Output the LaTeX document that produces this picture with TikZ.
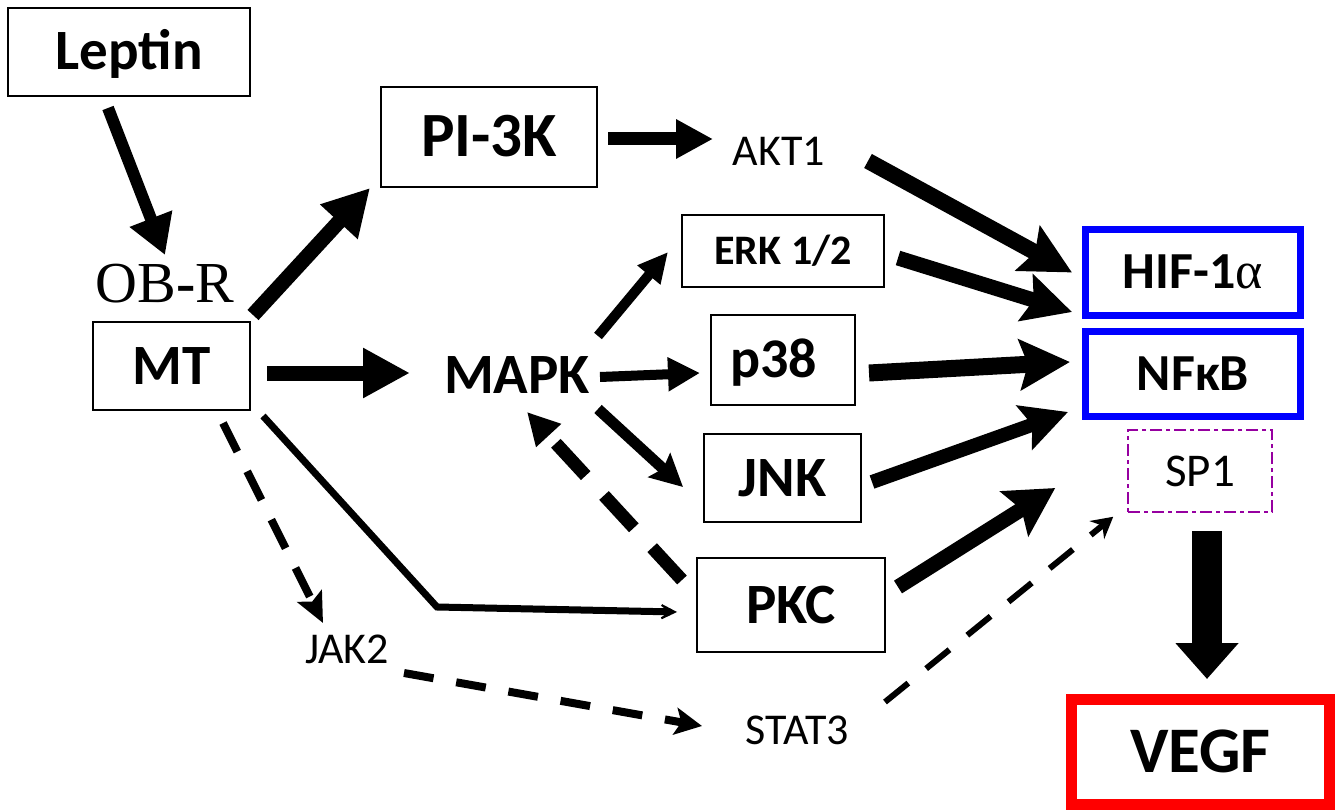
\documentclass[tikz,border=0pt]{standalone}
\usepackage{fontspec}
\setmainfont{Carlito}
\newfontfamily\serifface{Liberation Serif}
\usetikzlibrary{arrows.meta,calc}
\newcommand\fsz[1]{\fontsize{#1}{#1}\selectfont}
\definecolor{boxblue}{RGB}{0,0,255}
\definecolor{boxred}{RGB}{255,0,0}
\definecolor{sppurple}{RGB}{150,0,160}
\tikzset{
  box/.style={draw, line width=2pt, inner sep=0pt, text depth=0pt, align=center},
  tf/.style={box, line width=7pt, draw=boxblue},
  plain/.style={inner sep=0pt, text depth=0pt},
  tri/.style n args={3}{line width=#1, -{Triangle[length=#2, width=#3]}},
  stl/.style n args={4}{line width=#1, -{Stealth[length=#2, width=#3, inset=#4]}}
}
\begin{document}
\begin{tikzpicture}[x=1pt, y=-1pt]
\useasboundingbox (0,0) rectangle (1341,810);

% boxes
\node[box, minimum width=242pt, minimum height=88pt, font=\bfseries\fsz{57}, text height=36pt] (lep) at (129,52) {Leptin};
\node[box, minimum width=216pt, minimum height=100pt, font=\bfseries\fsz{63}, text height=40pt] (pi) at (489,137) {PI-3K};
\node[box, minimum width=157pt, minimum height=88pt, font=\bfseries\fsz{57}, text height=36pt] (mt) at (171.5,366) {MT};
\node[box, minimum width=202pt, minimum height=72pt, font=\bfseries\fsz{42}, text height=27pt] (erk) at (783,251) {ERK 1/2};
\node[box, minimum width=144pt, minimum height=90pt, font=\bfseries\fsz{56}, text height=35pt] (p38) at (783,360) {p38\kern19pt};
\node[box, minimum width=157pt, minimum height=88pt, font=\bfseries\fsz{57}, text height=36pt] (jnk) at (782.5,478) {JNK};
\node[box, minimum width=188pt, minimum height=94pt, font=\bfseries\fsz{57}, text height=36pt] (pkc) at (791,605) {PKC};
\node[tf, minimum width=215pt, minimum height=86pt, font=\bfseries\fsz{52}, text height=33pt] (hif) at (1193,272.5) {HIF-1{\serifface\mdseries α}};
\node[tf, minimum width=215pt, minimum height=85pt, font=\bfseries\fsz{52}, text height=33pt] (nfkb) at (1193,374) {NFκB};
\node[box, line width=1.5pt, draw=sppurple, dash pattern=on 12pt off 4pt on 4pt off 4pt,
      minimum width=144pt, minimum height=82pt, font=\fsz{47}, text height=30pt] (sp1) at (1200,471) {SP1};
\node[box, line width=11pt, draw=boxred, minimum width=258pt, minimum height=105pt,
      font=\bfseries\fsz{65}, text height=41pt] (vegf) at (1200.5,752) {VEGF};

% free labels
\node[plain, font=\serifface\fsz{58}, text height=38pt] (obr) at (165,283) {OB{\bfseries -}R};
\node[plain, font=\fsz{44}, text height=28pt] (akt) at (779,152) {AKT1};
\node[plain, font=\bfseries\fsz{57}, text height=36pt] (mapk) at (517,375) {MAPK};
\node[plain, font=\fsz{44}, text height=28pt] (jak) at (347,649) {JAK2};
\node[plain, font=\fsz{44}, text height=28pt] (stat) at (797,730) {STAT3};

% solid arrows
\draw[tri={12pt}{39pt}{43pt}] ($(lep.south)+(-21,11)$) -- ($(obr)+(0,-28)$);
\draw[tri={15pt}{46pt}{48pt}] ($(mt.north east)+(2,-6)$) -- ($(pi.south west)+(-10,0)$);
\draw[tri={13pt}{37pt}{37pt}] ($(pi.east)+(10,2)$) -- ($(akt)+(-66,-13)$);
\draw[stl={16pt}{50pt}{50pt}{8pt}] ($(akt)+(89,9)$) -- ($(hif.west)+(-10,0)$);
\draw[tri={10pt}{30pt}{28pt}] ($(mapk)+(81,-39)$) -- ($(erk.west)+(-13,1)$);
\draw[stl={15pt}{48pt}{48pt}{8pt}] ($(erk.east)+(13,7)$) -- ($(hif.south west)+(-10,-7)$);
\draw[tri={15pt}{47pt}{47pt}] ($(mt.east)+(16,7)$) -- ($(mapk)+(-107,-2)$);
\draw[tri={10pt}{32pt}{32pt}] ($(mapk)+(83,2)$) -- ($(p38.west)+(-10,13)$);
\draw[stl={17pt}{50pt}{50pt}{8pt}] ($(p38.east)+(13,13)$) -- ($(nfkb.west)+(-12,-12)$);
\draw[stl={11pt}{32pt}{32pt}{5pt}] ($(mapk)+(81,34)$) -- ($(jnk.west)+(-20,9)$);
\draw[stl={14pt}{46pt}{46pt}{8pt}] ($(jnk.east)+(10,4)$) -- ($(nfkb.south west)+(-14,-8)$);
\draw[stl={15pt}{48pt}{52pt}{8pt}] ($(pkc.east)+(12,-18)$) -- ($(sp1.west)+(-72,17)$);
\draw[tri={30pt}{36pt}{61pt}] ($(sp1.south)+(7,18)$) -- ($(vegf.north)+(6.5,-15)$);
\draw[stl={7pt}{26pt}{26pt}{18pt}, line join=miter] ($(mt.south east)+(12,5)$) -- ($(pkc.west)+(-259,2)$) -- ($(pkc.west)+(-19,7)$);

% dashed arrows
\draw[tri={13pt}{32pt}{32pt}, dash pattern=on 44pt off 27pt] ($(pkc.north west)+(-14,23)$) -- ($(mapk)+(10,37)$);
\draw[stl={8pt}{30pt}{27pt}{6pt}, dash pattern=on 32pt off 22pt] ($(mt.south)+(51.5,12)$) -- ($(jak)+(-24,-26)$);
\draw[stl={8pt}{27pt}{27pt}{6pt}, dash pattern=on 30pt off 23pt] ($(jak)+(57,24)$) -- ($(stat)+(-95,-4)$);
\draw[stl={6pt}{21pt}{23pt}{7pt}, dash pattern=on 30pt off 23pt] ($(stat)+(88,-28)$) -- ($(sp1.south west)+(-14,4)$);
\end{tikzpicture}
\end{document}
